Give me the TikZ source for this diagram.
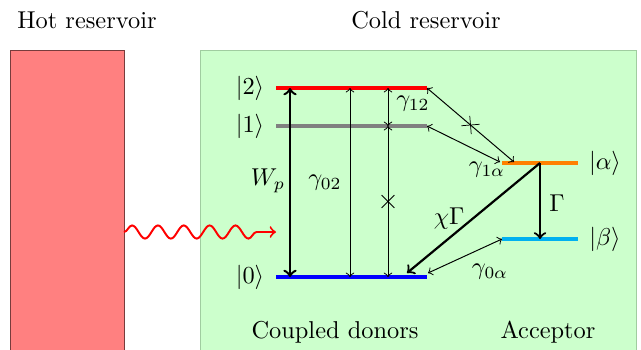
\documentclass[tikz,border=0pt]{standalone}
\usepackage{amsmath}
\usepackage{xcolor}
\usepackage{tikz}
\usetikzlibrary{arrows, positioning, decorations.pathmorphing, shapes.misc}
\definecolor{hotred}{RGB}{255, 128, 128}
\definecolor{hotedge}{RGB}{120, 60, 60}
\definecolor{coldgreen}{RGB}{204, 255, 204}
\definecolor{coldedge}{RGB}{160, 205, 160}
\definecolor{alphaorange}{RGB}{255, 128, 0}
\definecolor{betacyan}{RGB}{0, 176, 240}

\begin{document}
\begin{tikzpicture}[x=0.41pt, y=-0.41pt,
    level/.style={line width=1.6pt},
    thin arr/.style={<->, line width=0.4pt},
    thick arr/.style={->, line width=0.9pt},
    lbl/.style={inner sep=1pt},
    xmark/.style={cross out, draw, minimum size=5pt, inner sep=0pt, line width=0.3pt}
]
\useasboundingbox (0,0) rectangle (641,349);

% reservoirs
\draw[fill=hotred, draw=hotedge] (10,50) rectangle (124,360);
\draw[fill=coldgreen, draw=coldedge] (200,50) rectangle (636,360);
\node[lbl] (hot)  at (87,20)  {Hot reservoir};
\node[lbl] (cold) at (426,20) {Cold reservoir};

% energy levels
\coordinate (l2a) at (276,88);  \coordinate (l2b) at (427,88);
\coordinate (l1a) at (276,126); \coordinate (l1b) at (427,126);
\coordinate (l0a) at (276,277); \coordinate (l0b) at (427,277);
\coordinate (laa) at (502,163); \coordinate (lab) at (578,163);
\coordinate (lba) at (502,239); \coordinate (lbb) at (578,239);
\draw[level, red] (l2a) -- (l2b);
\draw[level, gray] (l1a) -- (l1b);
\draw[level, blue] (l0a) -- (l0b);
\draw[level, alphaorange] (laa) -- (lab);
\draw[level, betacyan] (lba) -- (lbb);

\node[lbl] (k2) at (250,88)  {$|2\rangle$};
\node[lbl] (k1) at (250,126) {$|1\rangle$};
\node[lbl] (k0) at (250,277) {$|0\rangle$};
\node[lbl] (ka) at (605,163) {$|\alpha\rangle$};
\node[lbl] (kb) at (605,239) {$|\beta\rangle$};

% transitions
\coordinate (cwp) at (290,0);
\coordinate (cg02) at (350,0);
\coordinate (cg12) at (388,0);
\coordinate (cgam) at (540,0);
\draw[<->, line width=1pt] (cwp |- l2a) -- (cwp |- l0a);
\draw[thin arr] (cg02 |- l2a) -- (cg02 |- l0a);
\draw[thin arr] (cg12 |- l2a) -- (cg12 |- l1a);
\draw[thin arr] (cg12 |- l1a) -- (cg12 |- l0a) node[xmark, midway] {};
\draw[thin arr] (l2b) -- (514,162) node[xmark, midway, sloped] {};
\draw[thin arr] (l1b) -- (500,162);
\draw[thin arr] (428,273) -- (lba);
\draw[thick arr] (cgam |- laa) -- (cgam |- lba);
\draw[thick arr] (cgam |- laa) -- (407,273);

\node[lbl] (wp)   at (268,181) {$W_p$};
\node[lbl] (g02)  at (325,183) {$\gamma_{02}$};
\node[lbl] (g12)  at (413,104) {$\gamma_{12}$};
\node[lbl] (g1a)  at (487,170) {$\gamma_{1\alpha}$};
\node[lbl] (g0a)  at (490,272) {$\gamma_{0\alpha}$};
\node[lbl] (gam)  at (557,203) {$\Gamma$};
\node[lbl] (chi)  at (449,219) {$\chi\Gamma$};

% pumping photon
\coordinate (pin) at (124,232);
\coordinate (pout) at (276,232);
\draw[->, red, line width=0.8pt, decorate,
      decoration={snake, segment length=10.6pt, amplitude=2.7pt, post length=3pt}]
  (pin) -- (pout);

\node[lbl] (donors)   at (335,332) {Coupled donors};
\node[lbl] (acceptor) at (548,332) {Acceptor};
\end{tikzpicture}
\end{document}
